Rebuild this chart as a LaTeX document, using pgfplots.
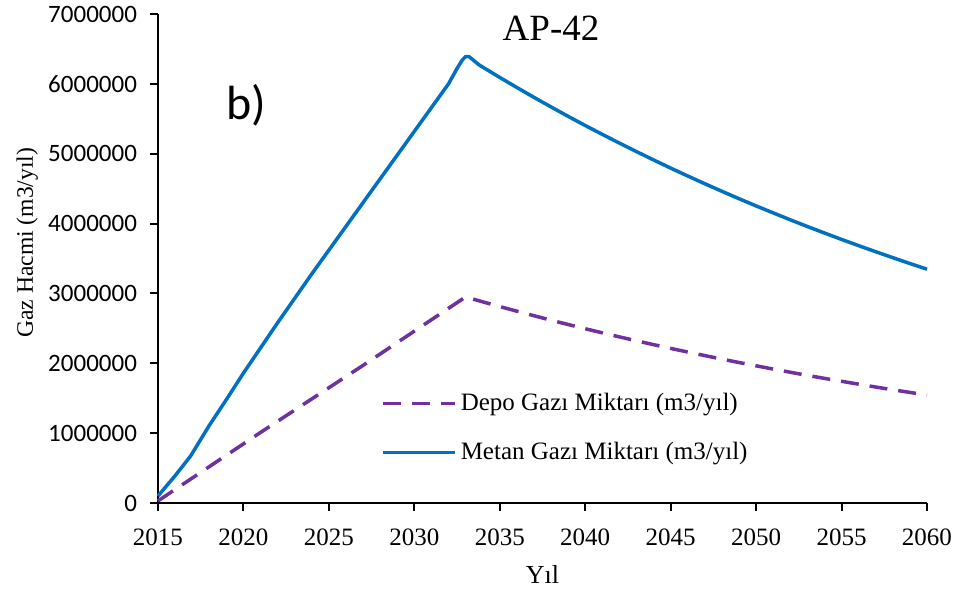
\documentclass[border=0pt]{standalone}
\usepackage{fontspec}
\setmainfont{Liberation Serif}
\newfontfamily\carlito{Carlito}
\usepackage{pgfplots}
\pgfplotsset{compat=1.18}
\definecolor{blueline}{RGB}{0,112,192}
\definecolor{purpleline}{RGB}{112,48,160}

\pgfplotstableread{
year depo
2015 30000
2018 520000
2021 1010000
2024 1490000
2027 1970000
2030 2460000
2033 2950000
2034 2880000
2035 2812000
2036 2746000
2037 2681000
2038 2617000
2039 2555000
2040 2495000
2041 2436000
2042 2378000
2043 2322000
2044 2267000
2045 2213000
2046 2161000
2047 2110000
2048 2060000
2049 2011000
2050 1964000
2051 1917000
2052 1872000
2053 1827000
2054 1784000
2055 1742000
2056 1701000
2057 1660000
2058 1621000
2059 1583000
2060 1545000
}\depotable

\pgfplotstableread{
year metan
2015 100000
2016 390000
2016.9 670000
2018 1110000
2019 1480000
2020 1860000
2021 2220000
2022 2580000
2023 2930000
2024 3280000
2025 3620000
2026 3960000
2027 4300000
2028 4640000
2029 4980000
2030 5320000
2031 5660000
2032 6000000
2032.5 6220000
2032.8 6340000
2033 6390000
2033.2 6390000
2033.5 6330000
2033.8 6270000
2034 6240000
2035 6092000
2036 5948000
2037 5807000
2038 5670000
2039 5535000
2040 5404000
2041 5277000
2042 5152000
2043 5030000
2044 4911000
2045 4794000
2046 4681000
2047 4570000
2048 4462000
2049 4356000
2050 4253000
2051 4153000
2052 4054000
2053 3958000
2054 3865000
2055 3773000
2056 3684000
2057 3597000
2058 3512000
2059 3428000
2060 3347000
}\metantable

\begin{document}
\begin{tikzpicture}
\useasboundingbox (-79pt,-43pt) rectangle (402.5pt,251.5pt);
\begin{axis}[
  at={(0,0)}, anchor=south west,
  scale only axis, width=384.5pt, height=244.5pt,
  xmin=2015, xmax=2060, ymin=0, ymax=7000000,
  axis x line=bottom, axis y line=left,
  axis line style={-, line width=1pt, black},
  tick style={line width=1pt, black}, tick align=outside, major tick length=4pt,
  xtick={2015,2020,2025,2030,2035,2040,2045,2050,2055,2060},
  xticklabels={2015,2020,2025,2030,2035,2040,2045,2050,2055,2060},
  ytick={0,1000000,2000000,3000000,4000000,5000000,6000000,7000000},
  yticklabels={0,1000000,2000000,3000000,4000000,5000000,6000000,7000000},
  xticklabel style={font=\fontsize{12.5}{14}\selectfont, yshift=-5.5pt},
  yticklabel style={font=\carlito\fontsize{12.5}{14}\selectfont, xshift=-3pt},
  xlabel={Yıl},
  ylabel={Gaz Hacmi (m3/yıl)},
  xlabel style={font=\fontsize{13}{15}\selectfont, at={(axis description cs:0.5,-0.147)}, anchor=center},
  ylabel style={font=\fontsize{11.8}{15}\selectfont, at={(axis description cs:-0.170,0.532)}, anchor=center, rotate=0},
  legend style={at={(0.282,0.2415)}, anchor=north west, draw=none, fill=none,
    font=\fontsize{12.5}{14}\selectfont, row sep=10.3pt},
  legend cell align=left,
  legend image code/.code={\draw[#1] (0pt,0pt) -- (36pt,0pt);},
  clip=false,
]
\addplot[purpleline, line width=1.75pt, dash pattern=on 9pt off 5.5pt] table[x=year, y=depo] {\depotable};
\addlegendentry{Depo Gazı Miktarı (m3/yıl)}
\addplot[blueline, line width=1.75pt, line join=round] table[x=year, y=metan] {\metantable};
\addlegendentry{Metan Gazı Miktarı (m3/yıl)}
\node[font=\fontsize{18.5}{20}\selectfont] at (axis cs:2038,6800000) {AP-42};
\node[font=\carlito\fontsize{24}{26}\selectfont] at (axis cs:2020.15,5700000) {b)};
\end{axis}
\end{tikzpicture}
\end{document}
